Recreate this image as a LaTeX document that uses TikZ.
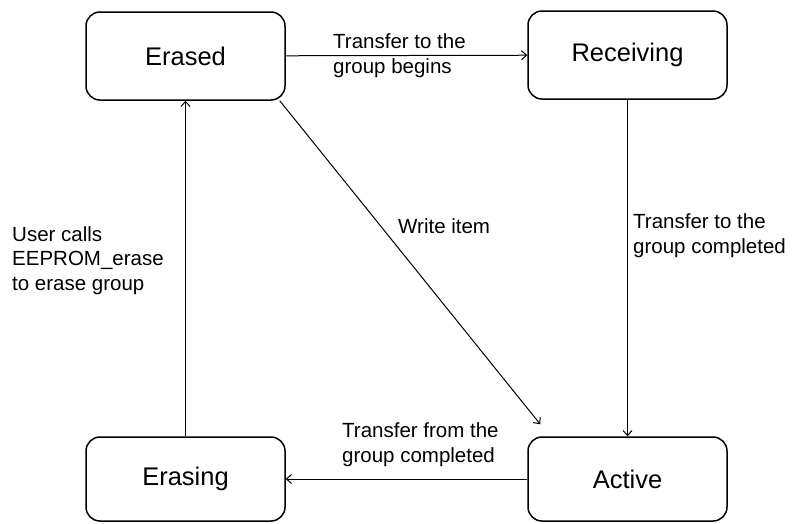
\documentclass[tikz,border=0pt]{standalone}
\usepackage{fontspec}
\setmainfont{Liberation Sans}
\usetikzlibrary{arrows.meta}
\begin{document}
\begin{tikzpicture}[x=1pt,y=-1pt,
  state/.style={draw, line width=1.5pt, rounded corners=14pt,
    minimum width=199pt, inner sep=0pt, font=\fontsize{25.5}{30}\selectfont},
  tr/.style={line width=1pt, -{Straight Barb[length=5pt,width=9pt,line width=1pt]}},
  lbl/.style={inner sep=0pt, anchor=base west, align=left,
    font=\fontsize{20.5}{24.5}\selectfont}]
\useasboundingbox (0,0) rectangle (795,523);

% states
\node[state, minimum height=88pt] (erased)    at (185.5,56)  {Erased};
\node[state, minimum height=88pt] (receiving) at (627.5,55)  {Receiving};
\node[state, minimum height=84pt] (erasing)   at (185.5,479) {Erasing};
\node[state, minimum height=84pt] (active)    at (627.5,479) {Active};

% transitions
\draw[tr] (erased) -- (receiving);
\draw[tr] (receiving) -- (active);
\draw[tr] ([xshift=-6pt]erased.south east) -- ([xshift=13pt,yshift=12pt]active.north west);
\draw[tr] (active) -- (erasing);
\draw[tr] (erasing) -- (erased);

% transition labels (anchored at the baseline of the last line)
\node[lbl] (l1) at (333,73)  {Transfer to the\\group begins};
\node[lbl] (l2) at (633,253) {Transfer to the\\group completed};
\node[lbl] (l3) at (398,233) {Write item};
\node[lbl] (l4) at (342,462) {Transfer from the\\group completed};
\node[lbl] (l5) at (12,290)  {User calls\\EEPROM\_erase\\to erase group};
\end{tikzpicture}
\end{document}
